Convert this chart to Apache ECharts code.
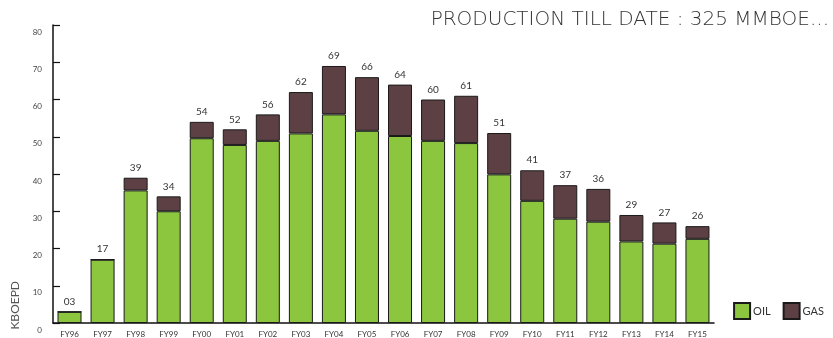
<!DOCTYPE html>
<html>
<head>
<meta charset="utf-8">
<script src="https://cdn.jsdelivr.net/npm/echarts@6/dist/echarts.min.js"></script>
<style>
  html, body { margin: 0; padding: 0; background: #fff; }
  #chart { width: 833px; height: 338px; }
</style>
</head>
<body>
<div id="chart"></div>
<script>
var years = ['FY96','FY97','FY98','FY99','FY00','FY01','FY02','FY03','FY04','FY05',
             'FY06','FY07','FY08','FY09','FY10','FY11','FY12','FY13','FY14','FY15'];
var oil = [3, 17, 35.6, 30, 49.6, 47.8, 48.9, 50.9, 56, 51.6,
           50.2, 48.9, 48.3, 39.9, 32.8, 28, 27.2, 21.9, 21.3, 22.6];
var gas = [0, 0, 3.4, 4, 4.4, 4.2, 7.1, 11.1, 13, 14.4,
           13.8, 11.1, 12.7, 11.1, 8.2, 9, 8.8, 7.1, 5.7, 3.4];
var yTicks = [0, 10, 20, 30, 40, 50, 60, 70, 80];

var oil_color = '#8cc63f';
var gas_color = '#5d4043';
var font = 'Lato, "Open Sans", sans-serif';

var chart = echarts.init(document.getElementById('chart'));

option = {
    animation: false,
    textStyle: { fontFamily: font },
    title: {
        text: 'PRODUCTION TILL DATE : 325 MMBOE...',
        right: -1,
        top: 5,
        textStyle: { fontSize: 20, fontWeight: 200, color: '#333', fontFamily: '"DejaVu Sans", sans-serif' }
    },
    legend: {
        data: ['OIL', 'GAS'],
        right: 4,
        bottom: 13,
        icon: 'rect',
        itemWidth: 16,
        itemHeight: 16,
        itemGap: 12,
        textStyle: { fontSize: 11, color: '#333', padding: [0, 0, 0, -2] }
    },
    graphic: [{
        type: 'text',
        left: 9,
        top: 281,
        rotation: Math.PI / 2,
        style: { text: 'KBOEPD', fontSize: 12, fill: '#555', fontFamily: font }
    }],
    grid: { left: 53, right: 119, top: 25, bottom: 15 },
    xAxis: {
        type: 'category',
        data: years,
        axisLine: { lineStyle: { color: '#111', width: 1.5 } },
        axisTick: { show: false },
        axisLabel: { fontSize: 8, color: '#333', margin: 7 }
    },
    yAxis: {
        type: 'value',
        min: yTicks[0],
        max: yTicks[yTicks.length - 1],
        interval: 10,
        splitLine: { show: false },
        axisLine: { show: true, lineStyle: { color: '#111', width: 1.5 } },
        axisTick: { show: true, inside: true, length: 7, lineStyle: { color: '#111', width: 1.2 } },
        axisLabel: { fontSize: 8, color: '#444', margin: 11, verticalAlign: 'top', padding: [3, 0, 0, 0] }
    },
    series: [
        {
            name: 'OIL',
            type: 'bar',
            stack: 'prod',
            barWidth: 24,
            itemStyle: { color: oil_color, borderColor: '#1a1a1a', borderWidth: 1 },
            data: oil
        },
        {
            name: 'GAS',
            type: 'bar',
            stack: 'prod',
            barWidth: 24,
            itemStyle: { color: gas_color, borderColor: '#1a1a1a', borderWidth: 1 },
            label: {
                show: true,
                position: 'top',
                distance: 5,
                fontSize: 10,
                color: '#333',
                formatter: function (p) {
                    var t = Math.round(oil[p.dataIndex] + gas[p.dataIndex]);
                    return t < 10 ? '0' + t : '' + t;
                }
            },
            data: gas
        }
    ]
};
chart.setOption(option);
</script>
</body>
</html>
